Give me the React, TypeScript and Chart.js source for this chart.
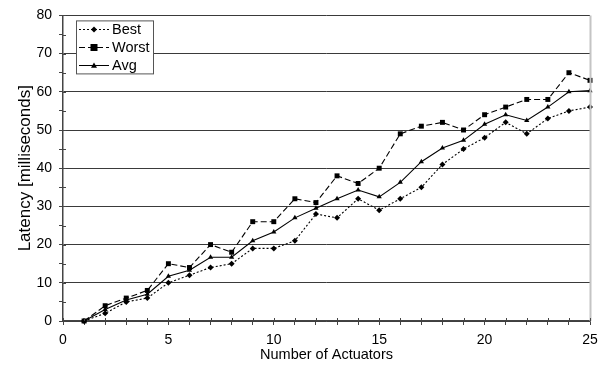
import React, { useEffect, useRef } from 'react';
import { Chart, registerables } from 'chart.js';

Chart.register(...registerables);

const actuators = [1, 2, 3, 4, 5, 6, 7, 8, 9, 10, 11, 12, 13, 14, 15, 16, 17, 18, 19, 20, 21, 22, 23, 24, 25];
const best = [0, 2, 5, 6, 10, 12, 14, 15, 19, 19, 21, 28, 27, 32, 29, 32, 35, 41, 45, 48, 52, 49, 53, 55, 56];
const worst = [0, 4, 6, 8, 15, 14, 20, 18, 26, 26, 32, 31, 38, 36, 40, 49, 51, 52, 50, 54, 56, 58, 58, 65, 63];
const avg = [0, 3, 5.5, 7, 11.7, 13.3, 16.7, 16.7, 21, 23.3, 27, 29.5, 32, 34.3, 32.5, 36.3, 41.7, 45.3, 47.3, 51.5, 54, 52.5, 56, 60, 60.3];
const seriesNames = ['Best', 'Worst', 'Avg'];
const seriesDash = [[2, 2], [6, 3], []];
const seriesMarker = ['rectRot', 'rect', 'triangle'];
const xTitle = 'Number of Actuators';
const yTitle = 'Latency [milliseconds]';

const FONT = '"Liberation Sans", Arial, Helvetica, sans-serif';
const AXIS = '#444';

function drawMarker(ctx: CanvasRenderingContext2D, kind: string, x: number, y: number, r: number) {
  ctx.beginPath();
  if (kind === 'rect') {
    ctx.rect(x - r, y - r, 2 * r, 2 * r);
  } else if (kind === 'rectRot') {
    ctx.moveTo(x, y - r);
    ctx.lineTo(x + r, y);
    ctx.lineTo(x, y + r);
    ctx.lineTo(x - r, y);
    ctx.closePath();
  } else {
    ctx.moveTo(x, y - r);
    ctx.lineTo(x + r, y + r * 0.75);
    ctx.lineTo(x - r, y + r * 0.75);
    ctx.closePath();
  }
  ctx.fill();
}

const extrasPlugin = {
  id: 'extras',
  afterDraw(chart: any) {
    const { ctx, chartArea, scales } = chart;
    const xs = scales.x;
    const ys = scales.y;
    ctx.save();
    // right border
    ctx.strokeStyle = '#c4c4c4';
    ctx.lineWidth = 2;
    ctx.beginPath();
    ctx.moveTo(chartArea.right + 0.5, chartArea.top);
    ctx.lineTo(chartArea.right + 0.5, chartArea.bottom);
    ctx.stroke();
    // inner tick marks
    ctx.strokeStyle = AXIS;
    ctx.lineWidth = 1;
    ctx.beginPath();
    xs.ticks.forEach((t: any) => {
      const px = Math.round(xs.getPixelForValue(t.value)) + 0.5;
      ctx.moveTo(px, chartArea.bottom);
      ctx.lineTo(px, chartArea.bottom - 3);
    });
    ys.ticks.forEach((t: any) => {
      const py = Math.round(ys.getPixelForValue(t.value)) + 0.5;
      ctx.moveTo(chartArea.left, py);
      ctx.lineTo(chartArea.left + 3, py);
    });
    ctx.stroke();

    // legend
    const lx = chartArea.left + 13;
    const ly = chartArea.top + 5;
    const lw = 77;
    const lh = 53;
    ctx.fillStyle = '#fff';
    ctx.fillRect(lx, ly, lw, lh);
    ctx.strokeStyle = '#555';
    ctx.lineWidth = 1;
    ctx.strokeRect(lx + 0.5, ly + 0.5, lw, lh);
    ctx.font = '14.5px ' + FONT;
    ctx.textBaseline = 'middle';
    ctx.textAlign = 'left';
    seriesNames.forEach((name, i) => {
      const yy = Math.round(ly + 8.5 + i * 18) + 0.5;
      ctx.strokeStyle = '#000';
      ctx.setLineDash(seriesDash[i]);
      ctx.beginPath();
      ctx.moveTo(lx + 3, yy);
      ctx.lineTo(lx + 33, yy);
      ctx.stroke();
      ctx.setLineDash([]);
      ctx.fillStyle = '#000';
      drawMarker(ctx, seriesMarker[i], lx + 18, yy, i === 1 ? 3.5 : 3);
      ctx.fillText(name, lx + 36, yy + 0.5);
    });
    ctx.restore();
  },
};

export default function App() {
  const ref = useRef<HTMLCanvasElement | null>(null);
  useEffect(() => {
    if (!ref.current) return;
    const mk = (vals: number[]) => actuators.map((x, i) => ({ x, y: vals[i] }));
    const allSeries = [best, worst, avg];
    const chart = new Chart(ref.current, {
      type: 'line',
      data: {
        datasets: allSeries.map((vals, i) => ({
          label: seriesNames[i],
          data: mk(vals),
          borderColor: '#000',
          backgroundColor: '#000',
          borderWidth: 1.1,
          borderDash: seriesDash[i],
          pointStyle: seriesMarker[i] as any,
          pointRadius: i === 1 ? 3.5 : 3,
          pointBorderWidth: 0,
          pointBackgroundColor: '#000',
          tension: 0,
          clip: false as any,
        })),
      },
      options: {
        animation: false,
        responsive: false,
        events: [],
        layout: { padding: { top: 12, right: 20, left: 0, bottom: 0 } },
        plugins: { legend: { display: false }, tooltip: { enabled: false } },
        scales: {
          x: {
            type: 'linear',
            min: 0,
            max: 25,
            afterFit: (s: any) => { s.height = 46; },
            ticks: {
              stepSize: 1,
              autoSkip: false,
              maxRotation: 0,
              color: '#000',
              padding: 7,
              font: { family: FONT, size: 14 },
              callback: (v: any) => (Number(v) % 5 === 0 ? String(v) : ''),
            },
            grid: { drawOnChartArea: false, drawTicks: true, tickLength: 4, tickColor: AXIS },
            border: { display: true, color: AXIS, width: 1.5 },
            title: {
              display: true,
              text: xTitle,
              color: '#000',
              font: { family: FONT, size: 14.5 },
              padding: { top: 0, bottom: 3 },
            },
          },
          y: {
            type: 'linear',
            min: 0,
            max: 80,
            afterFit: (s: any) => { s.width = 63; },
            ticks: {
              stepSize: 5,
              autoSkip: false,
              color: '#000',
              padding: 7,
              font: { family: FONT, size: 14 },
              callback: (v: any) => (Number(v) % 10 === 0 ? String(v) : ''),
            },
            grid: {
              color: (c: any) => (c.tick && c.tick.value % 10 === 0 ? '#3a3a3a' : 'rgba(0,0,0,0)'),
              lineWidth: 1,
              drawTicks: true,
              tickLength: 4,
              tickColor: AXIS,
            },
            border: { display: true, color: AXIS, width: 1.5 },
            title: {
              display: true,
              text: yTitle,
              color: '#000',
              font: { family: FONT, size: 17 },
              padding: { top: 15, bottom: 0 },
            },
          },
        },
      },
      plugins: [extrasPlugin],
    });
    return () => chart.destroy();
  }, []);
  return (
    <div style={{ position: 'fixed', left: 0, top: 0, width: 610, height: 367, background: '#fff' }}>
      <canvas ref={ref} width={610} height={367} />
    </div>
  );
}
